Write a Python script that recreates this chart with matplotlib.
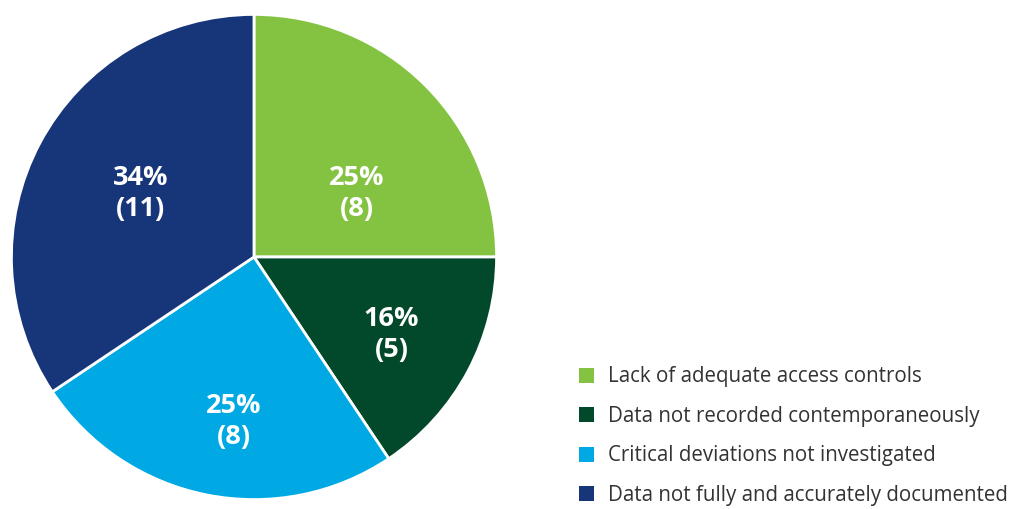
import matplotlib
matplotlib.use("Agg")
from matplotlib import pyplot as plt
from matplotlib.patches import Patch

categories = [
    "Lack of adequate access controls",
    "Data not recorded contemporaneously",
    "Critical deviations not investigated",
    "Data not fully and accurately documented",
]
counts = [8, 5, 8, 11]
colors = ["#84C342", "#02482B", "#00A9E4", "#17367A"]

# label spots inside each wedge (pie units, radius 1)
label_xy = [(0.424, 0.261), (0.567, -0.318), (-0.082, -0.678), (-0.469, 0.261)]

plt.rcParams["font.family"] = ["Open Sans", "DejaVu Sans"]

fig = plt.figure(figsize=(10.13, 5.09), dpi=100)
ax = fig.add_axes([0.00888, 0.01375, 0.4837, 0.9627])

total = sum(counts)
wedges, _ = ax.pie(counts, colors=colors, startangle=90, counterclock=False,
                   radius=1, wedgeprops=dict(edgecolor="white", linewidth=2))
ax.set_xlim(-1.01, 1.01)
ax.set_ylim(-1.01, 1.01)
ax.set_aspect("equal")
ax.axis("off")

for (x, y), c in zip(label_xy, counts):
    pct = round(100 * c / total)
    ax.text(x, y, f"{pct}%\n({c})", ha="center", va="center", color="white",
            fontsize=19.5, fontweight="bold", linespacing=1.25)

handles = [Patch(facecolor=col, edgecolor="none") for col in colors]
fig.legend(handles, categories, loc="lower left", bbox_to_anchor=(0.553, -0.03),
           frameon=False, fontsize=14.8, handlelength=0.75, handleheight=0.75,
           handletextpad=0.7, labelspacing=0.9, labelcolor="#333333")

fig.savefig("out.png", dpi=100)
